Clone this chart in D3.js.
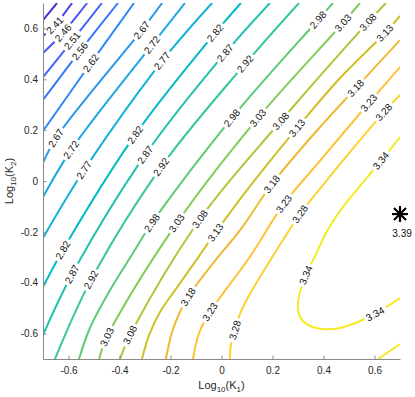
<!DOCTYPE html>
<html><head><meta charset="utf-8">
<script src="https://cdn.jsdelivr.net/npm/d3@7"></script>
<style>
body{margin:0;background:#fff}
svg{display:block}
text{font-family:"Liberation Sans",Arial,Helvetica,sans-serif}
</style>
</head><body>
<svg id="c" width="415" height="397"></svg>
<script>
// ---- data ----
const xDomain = [-0.7, 0.7];
const yDomain = [-0.7, 0.7];
const xTicks = [-0.6, -0.4, -0.2, 0, 0.2, 0.4, 0.6];
const xTickLabels = ["-0.6", "-0.4", "-0.2", "0", "0.2", "0.4", "0.6"];
const yTicks = [-0.6, -0.4, -0.2, 0, 0.2, 0.4, 0.6];
const yTickLabels = ["-0.6", "-0.4", "-0.2", "0", "0.2", "0.4", "0.6"];
const colorLimits = [2.304, 3.392];
const levels = [2.36, 2.41, 2.46, 2.51, 2.56, 2.62, 2.67, 2.72, 2.77, 2.82,
                2.87, 2.92, 2.98, 3.03, 3.08, 3.13, 3.18, 3.23, 3.28, 3.34];
// contour polylines (log10 K1, log10 K2)
const contourLines = [
  [[-0.700,0.633],[-0.645,0.700]],
  [[-0.700,0.570],[-0.653,0.613],[-0.586,0.700]],
  [[-0.700,0.503],[-0.622,0.582],[-0.527,0.700]],
  [[-0.700,0.409],[-0.586,0.551],[-0.469,0.700]],
  [[-0.700,0.319],[-0.555,0.511],[-0.406,0.700]],
  [[-0.700,0.197],[-0.512,0.464],[-0.343,0.700]],
  [[-0.700,0.071],[-0.649,0.169],[-0.312,0.594],[-0.233,0.700]],
  [[-0.700,-0.063],[-0.590,0.122],[-0.273,0.535],[-0.143,0.700]],
  [[-0.700,-0.224],[-0.539,0.043],[-0.233,0.472],[-0.037,0.700]],
  [[-0.700,-0.417],[-0.622,-0.271],[-0.339,0.181],[-0.025,0.582],[0.076,0.700]],
  [[-0.700,-0.606],[-0.586,-0.366],[-0.300,0.102],[0.014,0.503],[0.190,0.700]],
  [[-0.653,-0.700],[-0.512,-0.389],[-0.237,0.055],[0.092,0.460],[0.304,0.700]],
  [[-0.559,-0.700],[-0.516,-0.578],[-0.437,-0.429],[-0.347,-0.283],[-0.273,-0.165],[0.041,0.248],[0.378,0.633],[0.437,0.700]],
  [[-0.480,-0.700],[-0.449,-0.613],[-0.175,-0.165],[0.143,0.248],[0.476,0.621],[0.543,0.700]],
  [[-0.398,-0.700],[-0.359,-0.606],[-0.084,-0.149],[0.233,0.236],[0.575,0.625],[0.645,0.700]],
  [[-0.312,-0.700],[-0.284,-0.606],[-0.241,-0.515],[-0.182,-0.429],[-0.112,-0.330],[-0.033,-0.216],[0.112,-0.020],[0.296,0.208],[0.465,0.405],[0.641,0.582],[0.700,0.649]],
  [[-0.218,-0.700],[-0.194,-0.594],[-0.163,-0.515],[-0.131,-0.456],[-0.084,-0.389],[-0.014,-0.299],[0.073,-0.193],[0.198,-0.012],[0.359,0.181],[0.527,0.366],[0.700,0.554]],
  [[-0.112,-0.700],[-0.088,-0.598],[-0.045,-0.515],[0.108,-0.303],[0.245,-0.090],[0.386,0.079],[0.578,0.307],[0.700,0.448]],
  [[0.033,-0.700],[0.037,-0.645],[0.053,-0.586],[0.076,-0.515],[0.120,-0.429],[0.175,-0.338],[0.241,-0.232],[0.308,-0.130],[0.386,-0.031],[0.484,0.090],[0.637,0.271],[0.700,0.338]],
  [[0.700,0.173],[0.625,0.079],[0.563,0.004],[0.476,-0.102],[0.414,-0.197],[0.367,-0.295],[0.331,-0.370],[0.308,-0.436],[0.300,-0.488],[0.308,-0.535],[0.339,-0.566],[0.394,-0.582],[0.465,-0.578],[0.543,-0.551],[0.602,-0.523],[0.700,-0.460]],
  [[0.614,-0.700],[0.700,-0.641]]
];
const contourLevelIndex = [0,1,2,3,4,5,6,7,8,9,10,11,12,13,14,15,16,17,18,19,19];
// inline labels: [line index, x, y]
const contourLabels = [
  [1,-0.653,0.613],[2,-0.622,0.582],[3,-0.586,0.551],[4,-0.555,0.511],[5,-0.512,0.464],
  [6,-0.649,0.169],[6,-0.312,0.594],
  [7,-0.590,0.122],[7,-0.273,0.535],
  [8,-0.539,0.043],[8,-0.233,0.472],
  [9,-0.622,-0.271],[9,-0.339,0.181],[9,-0.025,0.582],
  [10,-0.586,-0.366],[10,-0.300,0.102],[10,0.014,0.503],
  [11,-0.512,-0.389],[11,-0.237,0.055],[11,0.092,0.460],
  [12,-0.273,-0.165],[12,0.041,0.248],[12,0.378,0.633],
  [13,-0.449,-0.613],[13,-0.175,-0.165],[13,0.143,0.248],[13,0.476,0.621],
  [14,-0.359,-0.606],[14,-0.084,-0.149],[14,0.233,0.236],[14,0.575,0.625],
  [15,-0.025,-0.201],[15,0.296,0.208],[15,0.641,0.582],
  [16,-0.131,-0.456],[16,0.198,-0.012],[16,0.527,0.366],
  [17,-0.045,-0.515],[17,0.245,-0.090],[17,0.578,0.307],
  [18,0.053,-0.586],[18,0.308,-0.130],[18,0.637,0.271],
  [19,0.625,0.079],[19,0.331,-0.370],[19,0.602,-0.523]
];
const maxPoint = [0.7, -0.13];
const maxLabel = "3.39";
const maxLabelPos = [0.708, -0.222];

// MATLAB parula (64)
const parulaRows = [
[0.2422,0.1504,0.6603],[0.2504,0.1650,0.7076],[0.2578,0.1818,0.7511],[0.2647,0.1978,0.7952],
[0.2706,0.2147,0.8364],[0.2751,0.2342,0.8710],[0.2783,0.2559,0.8991],[0.2803,0.2782,0.9221],
[0.2813,0.3006,0.9414],[0.2810,0.3228,0.9579],[0.2795,0.3447,0.9717],[0.2760,0.3667,0.9829],
[0.2699,0.3892,0.9906],[0.2602,0.4123,0.9952],[0.2440,0.4358,0.9988],[0.2206,0.4603,0.9973],
[0.1963,0.4847,0.9892],[0.1834,0.5074,0.9798],[0.1786,0.5289,0.9682],[0.1764,0.5499,0.9520],
[0.1687,0.5703,0.9359],[0.1540,0.5902,0.9218],[0.1460,0.6091,0.9079],[0.1380,0.6276,0.8973],
[0.1248,0.6459,0.8883],[0.1113,0.6635,0.8763],[0.0952,0.6798,0.8598],[0.0689,0.6948,0.8394],
[0.0297,0.7082,0.8163],[0.0036,0.7203,0.7917],[0.0067,0.7312,0.7660],[0.0433,0.7411,0.7394],
[0.0964,0.7500,0.7120],[0.1408,0.7584,0.6842],[0.1717,0.7670,0.6554],[0.1938,0.7758,0.6251],
[0.2161,0.7843,0.5923],[0.2470,0.7918,0.5567],[0.2906,0.7973,0.5188],[0.3406,0.8008,0.4789],
[0.3909,0.8029,0.4354],[0.4456,0.8024,0.3909],[0.5044,0.7993,0.3480],[0.5616,0.7942,0.3045],
[0.6174,0.7876,0.2612],[0.6720,0.7793,0.2227],[0.7242,0.7698,0.1910],[0.7738,0.7598,0.1646],
[0.8203,0.7498,0.1535],[0.8634,0.7406,0.1596],[0.9035,0.7330,0.1774],[0.9393,0.7288,0.2100],
[0.9728,0.7298,0.2394],[0.9956,0.7434,0.2371],[0.9970,0.7659,0.2199],[0.9952,0.7893,0.2028],
[0.9892,0.8136,0.1885],[0.9786,0.8386,0.1766],[0.9676,0.8639,0.1643],[0.9610,0.8890,0.1537],
[0.9597,0.9135,0.1423],[0.9628,0.9373,0.1265],[0.9691,0.9606,0.1064],[0.9769,0.9839,0.0805]
];
function parula(v){
  let t = (v - colorLimits[0]) / (colorLimits[1] - colorLimits[0]);
  t = Math.max(0, Math.min(1, t));
  const p = t * 63, i = Math.min(62, Math.floor(p)), f = p - i;
  const a = parulaRows[i], b = parulaRows[i+1];
  return d3.rgb(255*(a[0]+(b[0]-a[0])*f), 255*(a[1]+(b[1]-a[1])*f), 255*(a[2]+(b[2]-a[2])*f)).formatHex();
}

// ---- drawing ----
const L = 43, R = 400, T = 3, B = 359;
const svg = d3.select("#c");
const X = d3.scaleLinear().domain(xDomain).range([L, R]);
const Y = d3.scaleLinear().domain(yDomain).range([B, T]);

svg.append("defs").append("clipPath").attr("id","clip")
  .append("rect").attr("x",L).attr("y",T).attr("width",R-L).attr("height",B-T);

const lineGen = d3.line().x(d => X(d[0])).y(d => Y(d[1])).curve(d3.curveCatmullRom.alpha(0.5));

const gLines = svg.append("g").attr("clip-path","url(#clip)");
const pathSel = gLines.selectAll("path").data(contourLines).join("path")
  .attr("d", lineGen)
  .attr("fill","none")
  .attr("stroke", (d,i) => parula(levels[contourLevelIndex[i]] + 0.002))
  .attr("stroke-width", 2)
  .attr("stroke-linejoin","round");
const pathNodes = pathSel.nodes();

const gLab = svg.append("g");
const gaps = contourLines.map(() => []);
contourLabels.forEach(([li, lx, ly]) => {
  const node = pathNodes[li];
  const len = node.getTotalLength();
  const tx = X(lx), ty = Y(ly);
  let best = 0, bd = Infinity;
  for (let s = 0; s <= len; s += 0.5) {
    const p = node.getPointAtLength(s);
    const d = (p.x-tx)*(p.x-tx) + (p.y-ty)*(p.y-ty);
    if (d < bd) { bd = d; best = s; }
  }
  const p0 = node.getPointAtLength(Math.max(0, best-3));
  const p1 = node.getPointAtLength(Math.min(len, best+3));
  let ang = Math.atan2(p1.y-p0.y, p1.x-p0.x) * 180 / Math.PI;
  if (ang > 90) ang -= 180;
  if (ang <= -90) ang += 180;
  const pc = node.getPointAtLength(best);
  const t = gLab.append("text")
    .attr("transform", `translate(${pc.x},${pc.y}) rotate(${ang})`)
    .attr("text-anchor","middle")
    .attr("dy","0.35em")
    .attr("font-size",10)
    .attr("fill","#111")
    .text(levels[contourLevelIndex[li]].toFixed(2));
  const w = t.node().getComputedTextLength();
  gaps[li].push([best - w/2 - 2.5, best + w/2 + 2.5]);
});
pathSel.each(function(d,i){
  if (!gaps[i].length) return;
  const len = this.getTotalLength();
  const g = gaps[i].sort((a,b)=>a[0]-b[0]);
  const arr = [];
  let pos = 0;
  g.forEach(([s,e]) => {
    s = Math.max(s, pos); e = Math.max(e, s);
    arr.push(s - pos, e - s);
    pos = e;
  });
  arr.push(Math.max(0, len - pos) + 1, len + 10);
  d3.select(this).attr("stroke-dasharray", arr.join(" "));
});

// axes
const axisColor = "#8a8a8a", textColor = "#262626";
const xAxis = d3.axisBottom(X).tickValues(xTicks).tickFormat((d,i) => xTickLabels[i])
  .tickSizeInner(-3.5).tickSizeOuter(0).tickPadding(8);
const yAxis = d3.axisLeft(Y).tickValues(yTicks).tickFormat((d,i) => yTickLabels[i])
  .tickSizeInner(-3.5).tickSizeOuter(0).tickPadding(5);
const gx = svg.append("g").attr("transform",`translate(0,${B})`).call(xAxis);
const gy = svg.append("g").attr("transform",`translate(${L},0)`).call(yAxis);
[gx, gy].forEach(g => {
  g.select(".domain").attr("stroke", axisColor);
  g.selectAll(".tick line").attr("stroke", axisColor);
  g.selectAll(".tick text").attr("fill", textColor).attr("font-size", 10)
    .attr("font-family", '"Liberation Sans",Arial,Helvetica,sans-serif');
});

// axis titles
function subLabel(sel, sub){
  sel.append("tspan").text("Log");
  sel.append("tspan").attr("dy", 3).attr("font-size", 8).text("10");
  sel.append("tspan").attr("dy", -3).text("(K");
  sel.append("tspan").attr("dy", 3).attr("font-size", 8).text(sub);
  sel.append("tspan").attr("dy", -3).text(")");
}
const xt = svg.append("text").attr("x", (L+R)/2).attr("y", 389)
  .attr("text-anchor","middle").attr("font-size",11).attr("fill",textColor);
subLabel(xt, "1");
const yt = svg.append("text").attr("transform", `translate(13,${(T+B)/2}) rotate(-90)`)
  .attr("text-anchor","middle").attr("font-size",11).attr("fill",textColor);
subLabel(yt, "2");

// maximum marker (asterisk)
const sx = X(maxPoint[0]), sy = Y(maxPoint[1]);
const star = svg.append("g").attr("stroke","#000").attr("stroke-width",2.2).attr("stroke-linecap","butt");
const a = 8, b = 6;
[[ -a,0,a,0],[0,-a,0,a],[-b,-b,b,b],[-b,b,b,-b]].forEach(s => {
  star.append("line").attr("x1",sx+s[0]).attr("y1",sy+s[1]).attr("x2",sx+s[2]).attr("y2",sy+s[3]);
});
svg.append("text").attr("x", X(maxLabelPos[0])).attr("y", Y(maxLabelPos[1]))
  .attr("text-anchor","middle").attr("font-size",10).attr("fill","#111").text(maxLabel);
</script>
</body></html>
